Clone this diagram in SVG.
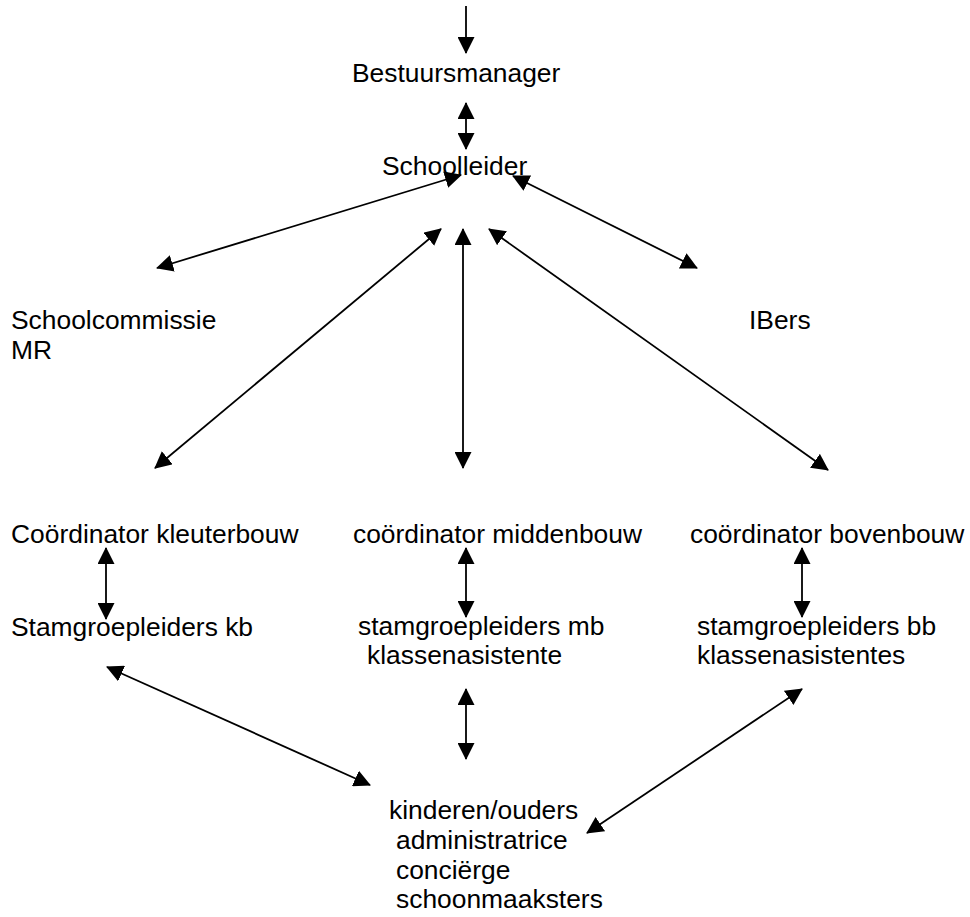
<svg xmlns="http://www.w3.org/2000/svg" width="970" height="917" viewBox="0 0 970 917">
<defs>
<style>
text{font-family:"Liberation Sans",Arial,sans-serif;font-size:26.4px;fill:#000}
.c line{stroke:#000;stroke-width:1.8;fill:none}
.b{marker-start:url(#ah);marker-end:url(#ah)}
.e{marker-end:url(#ah)}
</style>
<marker id="ah" markerUnits="userSpaceOnUse" markerWidth="17" markerHeight="17" viewBox="0 0 17 17" refX="16" refY="8.5" orient="auto-start-reverse">
<path d="M0,0 L17,8.5 L0,17 z" fill="#000"/>
</marker>
</defs>
<rect width="970" height="917" fill="#fff"/>
<g id="connectors" class="c">
<line class="e" x1="466" y1="6" x2="466" y2="53"/>
<line class="b" x1="466" y1="103" x2="466" y2="149"/>
<line class="b" x1="461" y1="175" x2="157" y2="268"/>
<line class="b" x1="513" y1="176" x2="697" y2="268"/>
<line class="b" x1="441" y1="229" x2="155" y2="468"/>
<line class="b" x1="463" y1="229" x2="463" y2="468"/>
<line class="b" x1="489" y1="229" x2="828" y2="470"/>
<line class="b" x1="106" y1="548" x2="106" y2="619"/>
<line class="b" x1="466" y1="548" x2="466" y2="617"/>
<line class="b" x1="802" y1="548" x2="802" y2="617"/>
<line class="b" x1="107" y1="667" x2="370" y2="785"/>
<line class="b" x1="466" y1="689" x2="466" y2="759"/>
<line class="b" x1="802" y1="689" x2="587" y2="833"/>
</g>
<g id="bestuursmanager"><text x="352" y="82">Bestuursmanager</text></g>
<g id="schoolleider"><text x="382" y="175">Schoolleider</text></g>
<g id="schoolcommissie"><text x="11" y="329">Schoolcommissie</text><text x="11" y="359">MR</text></g>
<g id="ibers"><text x="749" y="329">IBers</text></g>
<g id="coord-kb"><text x="11" y="543">Coördinator kleuterbouw</text></g>
<g id="coord-mb"><text x="353" y="543">coördinator middenbouw</text></g>
<g id="coord-bb"><text x="690" y="543">coördinator bovenbouw</text></g>
<g id="stam-kb"><text x="11" y="636">Stamgroepleiders kb</text></g>
<g id="stam-mb"><text x="358" y="635">stamgroepleiders mb</text><text x="367" y="664">klassenasistente</text></g>
<g id="stam-bb"><text x="697" y="635">stamgroepleiders bb</text><text x="697" y="664">klassenasistentes</text></g>
<g id="kinderen"><text x="389" y="819">kinderen/ouders</text><text x="396" y="849">administratrice</text><text x="396" y="879">conciërge</text><text x="396" y="908">schoonmaaksters</text></g>
</svg>
